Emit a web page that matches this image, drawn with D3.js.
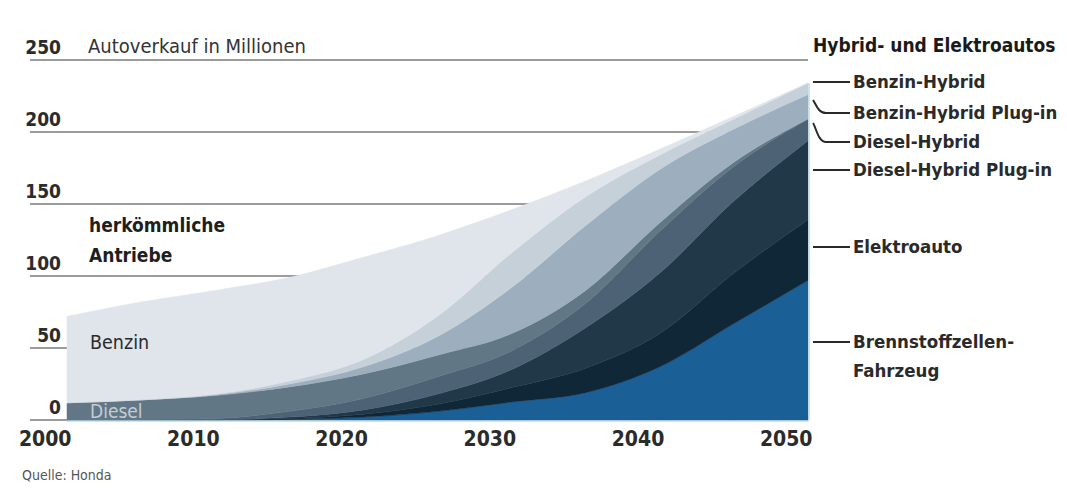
<!DOCTYPE html>
<html>
<head>
<meta charset="utf-8">
<script src="https://cdn.jsdelivr.net/npm/d3@7"></script>
<style>
  html, body { margin: 0; padding: 0; background: #ffffff; }
  svg { display: block; }
  text { font-family: "DejaVu Sans Condensed", "Liberation Sans Narrow", "Roboto Condensed", "DejaVu Sans", sans-serif; font-stretch: condensed; }
</style>
</head>
<body>
<svg id="chart" width="1067" height="497"></svg>
<script>
// Car sales in millions by drive type (source: Honda)
const years = [2000, 2005, 2010, 2015, 2020, 2025, 2030, 2035, 2040, 2045, 2050];

const brennstoffzellen = [0, 0, 0, 0.5, 2, 6, 12.5, 19, 37, 67, 97];
const elektroauto      = [0, 0, 0, 0.5, 2, 5, 10, 17, 23, 35, 42];
const dieselHybridPlug = [0, 0, 0, 1, 3, 7, 12.5, 28, 42, 50, 55];
const dieselHybrid     = [0, 0, 1, 4, 8, 12, 13, 17, 29, 24, 15];
const diesel           = [12, 14, 16, 17, 17, 15, 12, 9, 6, 3, 0];
const benzinHybridPlug = [0, 0, 0.5, 2, 5, 13, 32, 45, 37, 23, 17];
const benzinHybrid     = [0, 0, 0.5, 2, 5, 14, 24, 20, 10, 7, 8];
const benzin           = [60, 68, 72, 72, 71, 56, 30, 11, 4, 2, 0];

const yTicks = [0, 50, 100, 150, 200, 250];
const xTicks = [2000, 2010, 2020, 2030, 2040, 2050];

// stacking order from the bottom up
const layers = [
  { key: "Brennstoffzellen-Fahrzeug", values: brennstoffzellen, color: "#1a5f96" },
  { key: "Elektroauto",               values: elektroauto,      color: "#102738" },
  { key: "Diesel-Hybrid Plug-in",     values: dieselHybridPlug, color: "#213849" },
  { key: "Diesel-Hybrid",             values: dieselHybrid,     color: "#4d6274" },
  { key: "Diesel",                    values: diesel,           color: "#627786" },
  { key: "Benzin-Hybrid Plug-in",     values: benzinHybridPlug, color: "#9dafbe" },
  { key: "Benzin-Hybrid",             values: benzinHybrid,     color: "#c6d0d9" },
  { key: "Benzin",                    values: benzin,           color: "#dfe5ea" }
];

const rows = years.map((yr, i) => {
  const r = { year: yr };
  layers.forEach(l => { r[l.key] = l.values[i]; });
  return r;
});

const svg = d3.select("#chart");

const x = d3.scaleLinear().domain([2000, 2050]).range([67, 808]);
const y = d3.scaleLinear().domain([0, 250]).range([420, 60]);

// gridlines sit behind the stacked areas
svg.append("g").selectAll("line")
  .data(yTicks)
  .join("line")
  .attr("x1", 30).attr("x2", 808)
  .attr("y1", d => y(d)).attr("y2", d => y(d))
  .attr("stroke", "#9c9c9c").attr("stroke-width", 2);

svg.append("g").selectAll("text")
  .data(yTicks)
  .join("text")
  .attr("x", 61).attr("y", d => y(d) - 6)
  .attr("text-anchor", "end")
  .attr("font-size", 19).attr("font-weight", 600)
  .attr("fill", "#2b2b2b")
  .text(d => d);

const stack = d3.stack().keys(layers.map(l => l.key));
const stacked = stack(rows);

const area = d3.area()
  .x(d => x(d.data.year))
  .y0(d => y(d[0]))
  .y1(d => y(d[1]))
  .curve(d3.curveMonotoneX);

svg.append("g").selectAll("path")
  .data(stacked)
  .join("path")
  .attr("fill", (d, i) => layers[i].color)
  .attr("stroke", (d, i) => layers[i].color)
  .attr("stroke-width", 0.5)
  .attr("d", area);

// light edge along the right and bottom of the area
svg.append("line")
  .attr("x1", x(2050) + 1).attr("x2", x(2050) + 1)
  .attr("y1", y(stacked[stacked.length - 1][years.length - 1][1])).attr("y2", y(0))
  .attr("stroke", "#b9dcef").attr("stroke-width", 1.5);
svg.append("line")
  .attr("x1", x(2000)).attr("x2", x(2050) + 1)
  .attr("y1", y(0) + 1).attr("y2", y(0) + 1)
  .attr("stroke", "#b9dcef").attr("stroke-width", 1.5);

// x axis labels
const xAxis = d3.axisBottom(x).tickValues(xTicks).tickSize(0).tickFormat(d3.format("d"));
const gx = svg.append("g").attr("transform", `translate(0,${y(0)})`).call(xAxis);
gx.select(".domain").remove();
gx.selectAll("text")
  .attr("text-anchor", "end")
  .attr("dx", 4).attr("dy", 0).attr("y", 26)
  .attr("font-size", 21).attr("font-weight", 700)
  .attr("fill", "#2b2b2b");

// titles and inline labels
const txt = (t, px, py, size, weight, fill) =>
  svg.append("text").attr("x", px).attr("y", py)
    .attr("font-size", size).attr("font-weight", weight)
    .attr("fill", fill).text(t);

txt("Autoverkauf in Millionen", 88, 53, 20, 500, "#333");
txt("herkömmliche", 89, 232, 19, 700, "#1e1e1e");
txt("Antriebe", 89, 262, 19, 700, "#1e1e1e");
txt("Benzin", 90, 349, 19.5, 500, "#2a2a2a");
txt("Diesel", 90, 418, 19, 500, "#c2ccd3");
txt("Quelle: Honda", 22, 480, 14, 400, "#555");
txt("Hybrid- und Elektroautos", 813, 52, 19, 700, "#1a1a1a");

// legend with leader lines
const legend = [
  { label: ["Benzin-Hybrid"], from: 82, to: 82 },
  { label: ["Benzin-Hybrid Plug-in"], from: 100, to: 113 },
  { label: ["Diesel-Hybrid"], from: 123, to: 142 },
  { label: ["Diesel-Hybrid Plug-in"], from: 170, to: 170 },
  { label: ["Elektroauto"], from: 247, to: 247 },
  { label: ["Brennstoffzellen-", "Fahrzeug"], from: 342, to: 342 }
];

const lg = svg.append("g");
legend.forEach(e => {
  const p = d3.path();
  p.moveTo(813, e.from);
  if (e.from !== e.to) {
    p.bezierCurveTo(816, e.from + 4, 818, e.to, 826, e.to);
  }
  p.lineTo(850, e.to);
  lg.append("path").attr("d", p.toString())
    .attr("fill", "none").attr("stroke", "#2a2a2a").attr("stroke-width", 2);
  e.label.forEach((s, k) => {
    lg.append("text").attr("x", 853).attr("y", e.to + 6 + k * 29)
      .attr("font-size", 18.5).attr("font-weight", 600)
      .attr("fill", "#2a2a2a").text(s);
  });
});
</script>
</body>
</html>
